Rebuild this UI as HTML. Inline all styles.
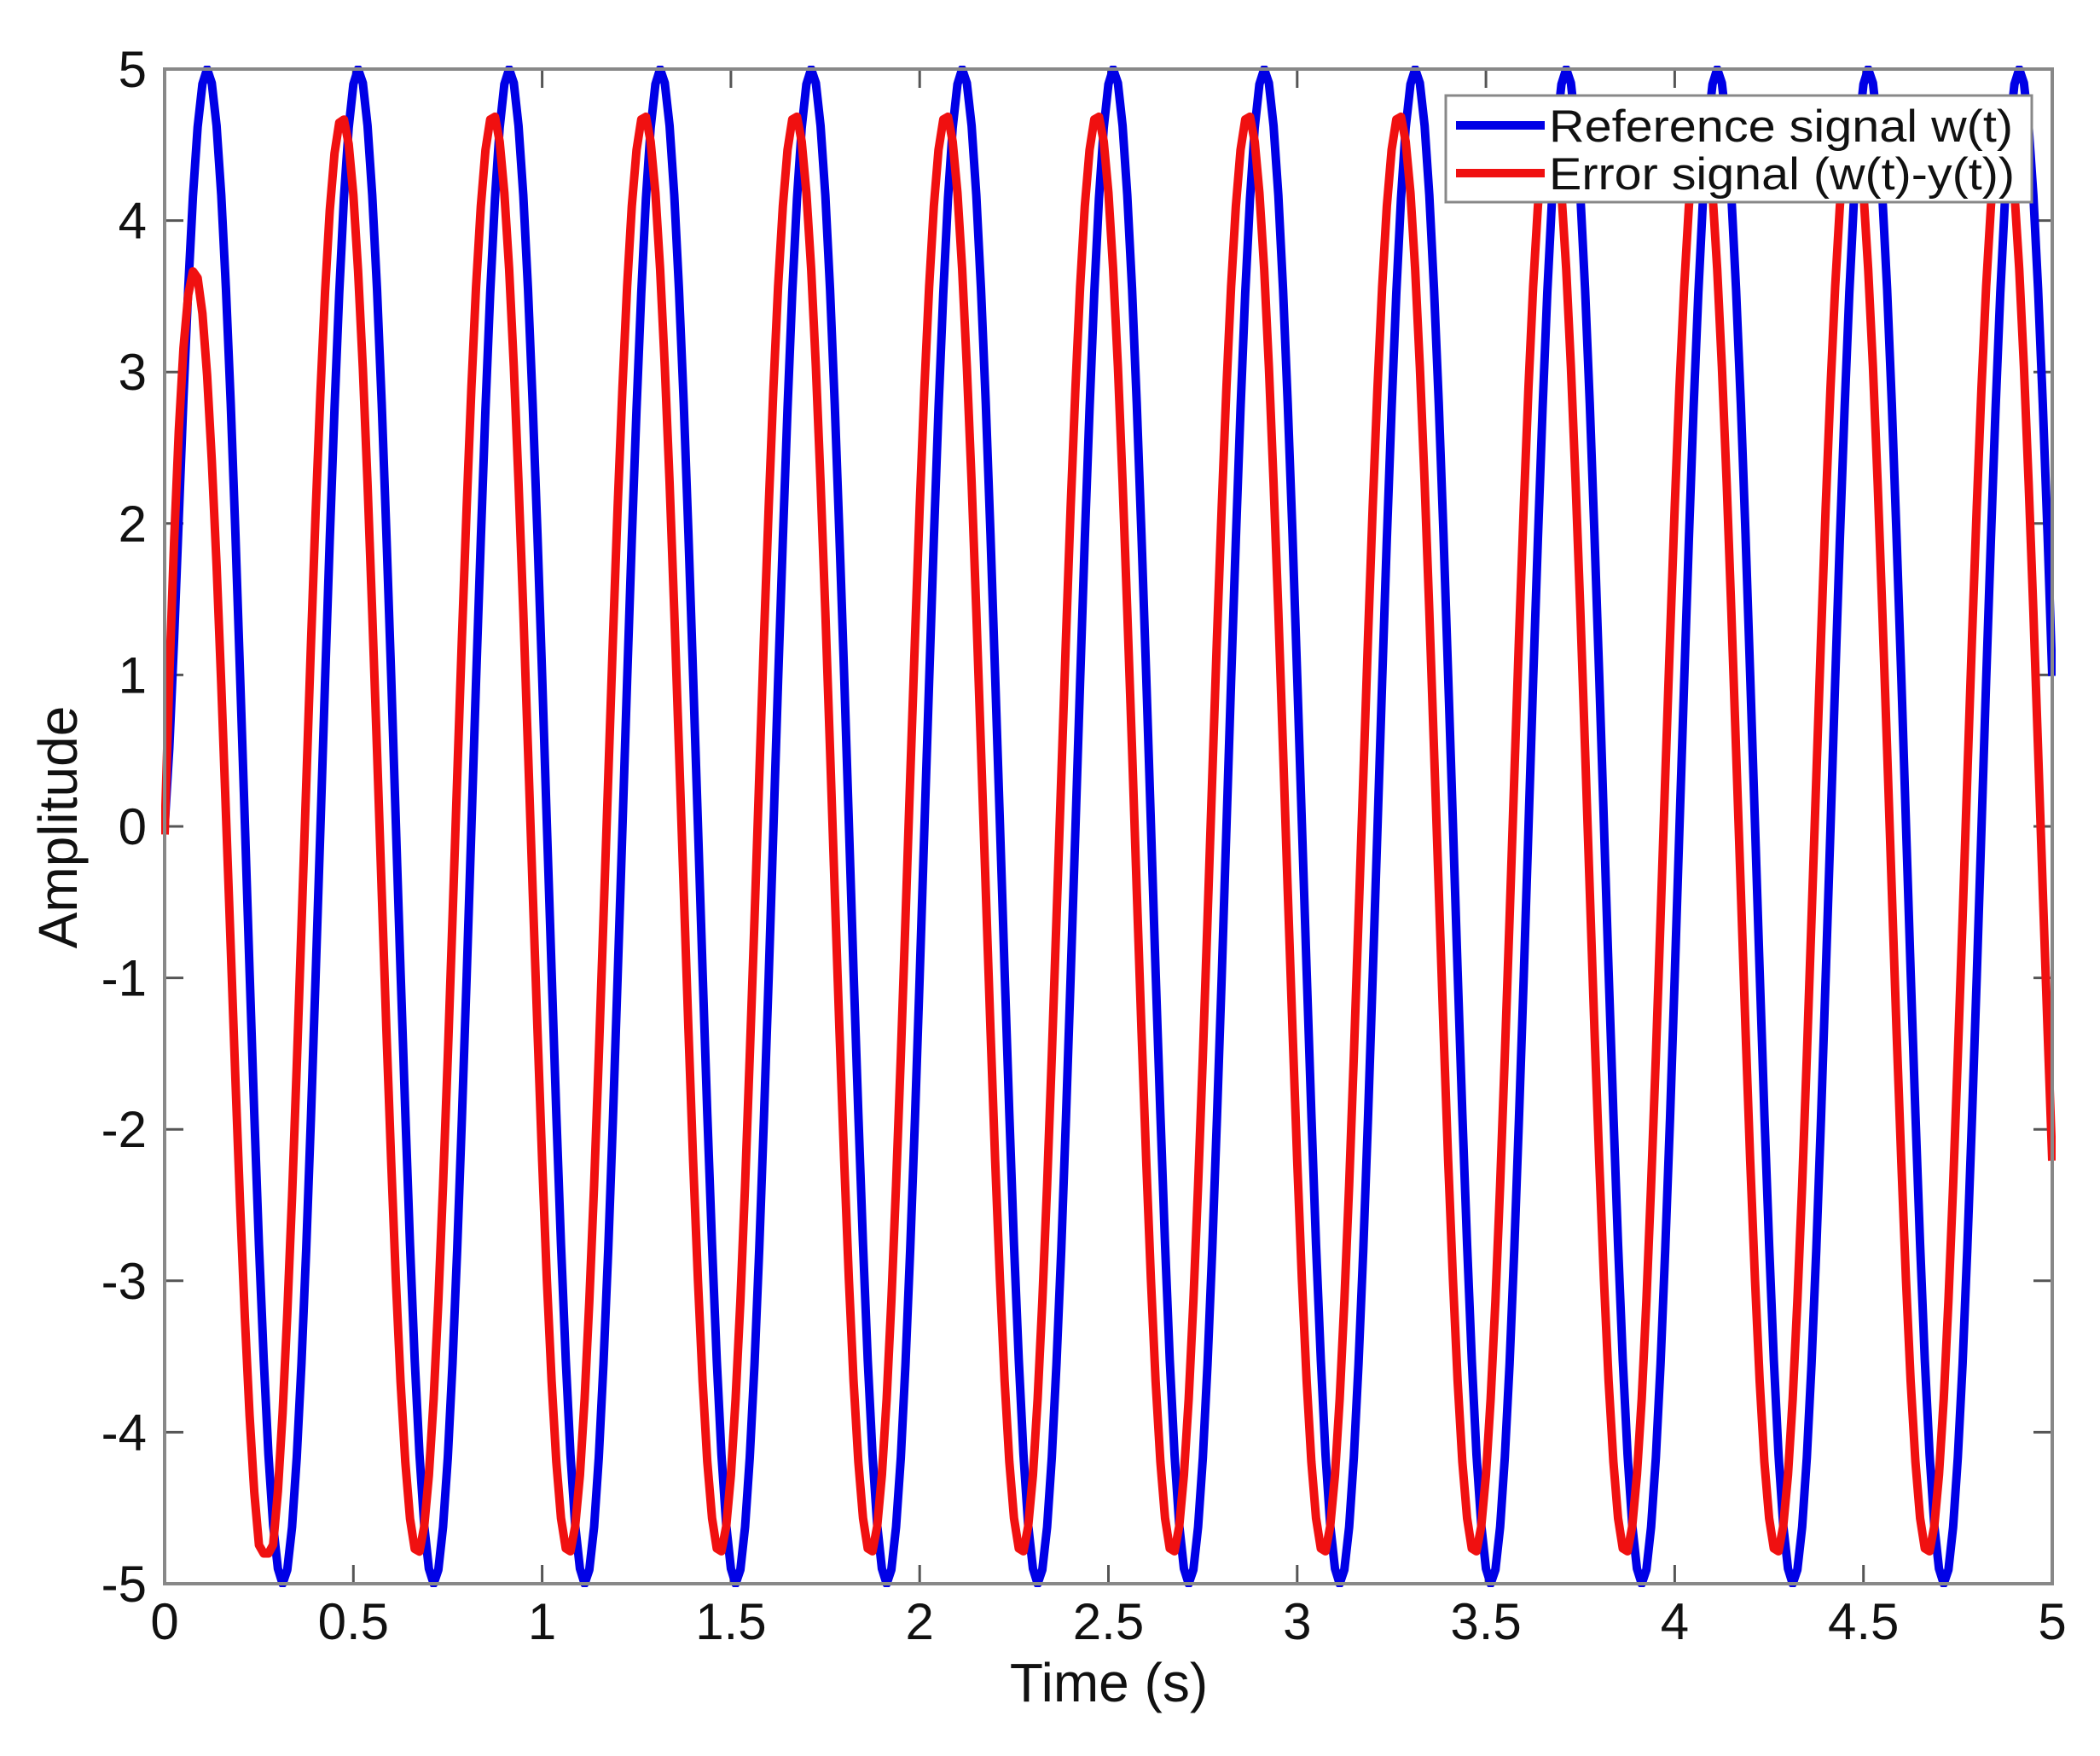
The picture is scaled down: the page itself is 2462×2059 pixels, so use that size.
<!DOCTYPE html>
<html><head><meta charset="utf-8"><style>
html,body{margin:0;padding:0;background:#fff;}
svg{display:block;}
text{font-family:"Liberation Sans",Arial,sans-serif;fill:#111;}
</style></head><body>
<svg id="s" width="2462" height="2059" viewBox="0 0 2462 2059" xmlns="http://www.w3.org/2000/svg">
<defs><clipPath id="c"><rect x="189" y="77" width="2221" height="1784"/></clipPath></defs>
<rect x="0" y="0" width="2462" height="2059" fill="#fff"/>
<g id="ticks" stroke="#555" stroke-width="3"></g>
<g clip-path="url(#c)">
<path id="blue" fill="none" stroke="#0000e6" stroke-width="10" stroke-linejoin="round"/>
<path id="red" fill="none" stroke="#f01010" stroke-width="10" stroke-linejoin="round"/>
</g>
<rect x="193" y="81" width="2213" height="1776" fill="none" stroke="#888" stroke-width="4"/>
<g id="labels" font-size="60"></g>
<text x="1300" y="1995" font-size="64" text-anchor="middle">Time (s)</text>
<text transform="translate(90,970) rotate(-90)" font-size="64" text-anchor="middle">Amplitude</text>
<rect x="1695" y="112" width="687" height="125" fill="#fff" stroke="#888" stroke-width="3"/>
<line x1="1707" y1="147" x2="1811" y2="147" stroke="#0000e6" stroke-width="10"/>
<line x1="1707" y1="203" x2="1811" y2="203" stroke="#f01010" stroke-width="10"/>
<text x="1816" y="166" font-size="53" textLength="544" lengthAdjust="spacingAndGlyphs">Reference signal w(t)</text>
<text x="1816" y="222" font-size="53" textLength="546" lengthAdjust="spacingAndGlyphs">Error signal (w(t)-y(t))</text>
</svg>
<script>
var X=function(t){return 193+442.6*t;},Y=function(v){return 81+177.6*(5-v);};
var NS="http://www.w3.org/2000/svg";
var tk=document.getElementById('ticks'),lb=document.getElementById('labels');
function el(p,n,a,txt){var e=document.createElementNS(NS,n);for(var k in a)e.setAttribute(k,a[k]);if(txt!==undefined)e.textContent=txt;p.appendChild(e);}
for(var i=0;i<=10;i++){var t=i*0.5,x=X(t);
 el(tk,'line',{x1:x,y1:1857,x2:x,y2:1835});el(tk,'line',{x1:x,y1:81,x2:x,y2:103});
 el(lb,'text',{x:x,y:1922,'text-anchor':'middle'},String(t));}
for(var v=-5;v<=5;v++){var y=Y(v);
 el(tk,'line',{x1:193,y1:y,x2:215,y2:y});el(tk,'line',{x1:2406,y1:y,x2:2384,y2:y});
 el(lb,'text',{x:172,y:y+21,'text-anchor':'end'},String(v));}
var w=2*Math.PI*2.5,b='',r='';
for(var k=0;k<=400;k++){var t=k*0.0125;
 var ph=w*t-0.2*(1-Math.exp(-t/0.02));
 var bv=5*Math.sin(ph);
 var th=w*(t+0.03);
 var rv=4.75*Math.sin(th)-2.16*Math.exp(-t/0.1)-0.05;
 if(rv<-4.8)rv=-4.8;
 b+=(k?'L':'M')+X(t).toFixed(1)+' '+Y(bv).toFixed(1);
 r+=(k?'L':'M')+X(t).toFixed(1)+' '+Y(rv).toFixed(1);}
document.getElementById('blue').setAttribute('d',b);
document.getElementById('red').setAttribute('d',r);
</script>
</body></html>
